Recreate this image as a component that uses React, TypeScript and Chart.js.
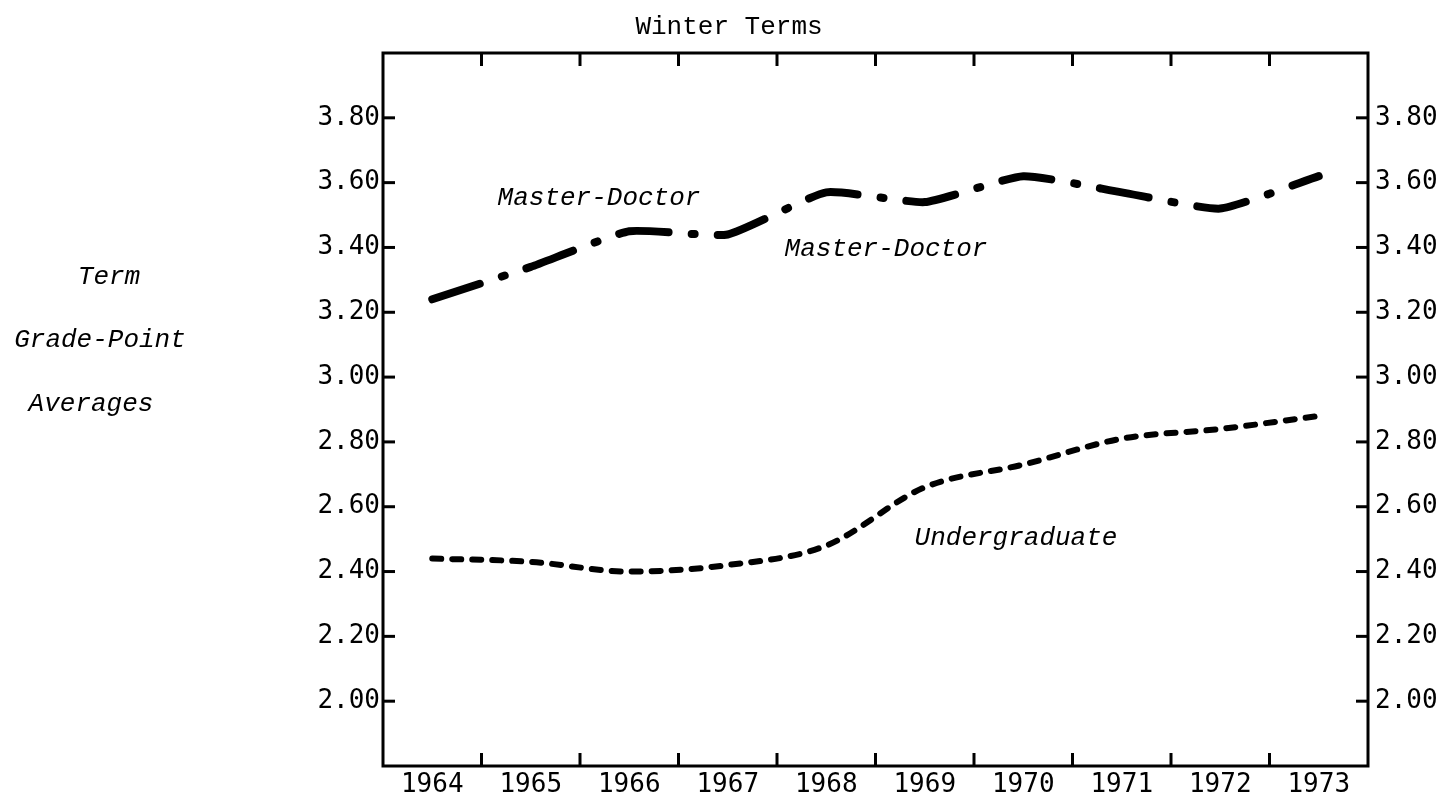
import { useEffect, useRef } from "react";
import { Chart, registerables } from "chart.js";

Chart.register(...registerables);

const YEARS = ["1964", "1965", "1966", "1967", "1968", "1969", "1970", "1971", "1972", "1973"];
const MASTER_DOCTOR = [3.24, 3.34, 3.45, 3.44, 3.57, 3.54, 3.62, 3.57, 3.52, 3.62];
const UNDERGRADUATE = [2.44, 2.43, 2.4, 2.42, 2.48, 2.66, 2.73, 2.81, 2.84, 2.88];
const Y_TICKS = [2.0, 2.2, 2.4, 2.6, 2.8, 3.0, 3.2, 3.4, 3.6, 3.8];
const Y_MIN = 1.8;
const Y_MAX = 4.0;
const TITLE = "Winter Terms";
const AXIS_TITLE_LINES = ["Term", "Grade-Point", "Averages"];
const SERIES_NAMES = ["Master-Doctor", "Undergraduate"];

const TICK_FONT = { family: "'DejaVu Sans Mono', monospace", size: 26 };
const ITALIC_FONT = "italic 26px 'Liberation Mono', monospace";
const TITLE_FONT = "26px 'Liberation Mono', monospace";

const decorPlugin = {
  id: "decor",
  afterDraw(chart: any) {
    const { ctx, chartArea: a, scales } = chart;
    const xs = scales.x;
    const ys = scales.y;
    ctx.save();
    ctx.strokeStyle = "#000";
    ctx.fillStyle = "#000";
    ctx.lineWidth = 3;
    ctx.lineCap = "butt";
    ctx.strokeRect(a.left, a.top, a.right - a.left, a.bottom - a.top);
    const line = (x1: number, y1: number, x2: number, y2: number) => {
      ctx.beginPath();
      ctx.moveTo(x1, y1);
      ctx.lineTo(x2, y2);
      ctx.stroke();
    };
    for (let i = 1; i < YEARS.length; i++) {
      const px = (xs.getPixelForValue(i - 1) + xs.getPixelForValue(i)) / 2;
      line(px, a.bottom, px, a.bottom - 13);
      line(px, a.top, px, a.top + 13);
    }
    Y_TICKS.forEach((v) => {
      const py = ys.getPixelForValue(v);
      line(a.left, py, a.left + 12, py);
      line(a.right, py, a.right - 12, py);
    });

    ctx.textAlign = "center";
    ctx.textBaseline = "alphabetic";
    ctx.font = TITLE_FONT;
    ctx.fillText(TITLE, 729, 34);

    ctx.font = ITALIC_FONT;
    const axisPos = [
      [109, 284],
      [100, 347],
      [91, 411],
    ];
    AXIS_TITLE_LINES.forEach((t, i) => ctx.fillText(t, axisPos[i][0], axisPos[i][1]));

    ctx.fillText(SERIES_NAMES[0], 599, 205);
    ctx.fillText(SERIES_NAMES[0], 886, 256);
    ctx.fillText(SERIES_NAMES[1], 1016, 545);
    ctx.restore();
  },
};

export default function App() {
  const ref = useRef<HTMLCanvasElement | null>(null);

  useEffect(() => {
    if (!ref.current) return;
    const yScale = (position: "left" | "right", width: number, padding: number) => ({
      type: "linear" as const,
      position,
      min: Y_MIN,
      max: Y_MAX,
      afterBuildTicks: (s: any) => {
        s.ticks = Y_TICKS.map((v) => ({ value: v }));
      },
      afterFit: (s: any) => {
        s.width = width;
      },
      grid: { display: false, drawTicks: false },
      border: { display: false },
      ticks: {
        color: "#000",
        font: TICK_FONT,
        padding,
        callback: (v: any) => Number(v).toFixed(2),
      },
    });

    const chart = new Chart(ref.current, {
      type: "line",
      data: {
        labels: YEARS,
        datasets: [
          {
            label: SERIES_NAMES[0],
            data: MASTER_DOCTOR,
            borderColor: "#000",
            borderWidth: 8,
            borderDash: [50, 23, 3, 23],
            borderCapStyle: "round",
            tension: 0.15,
            pointRadius: 0,
            fill: false,
            yAxisID: "y",
          },
          {
            label: SERIES_NAMES[1],
            data: UNDERGRADUATE,
            borderColor: "#000",
            borderWidth: 6,
            borderDash: [9, 11],
            borderCapStyle: "round",
            cubicInterpolationMode: "monotone",
            pointRadius: 0,
            fill: false,
            yAxisID: "y",
          },
        ],
      },
      options: {
        responsive: false,
        animation: false,
        layout: { padding: { top: 53, left: 0, right: 0, bottom: 0 } },
        plugins: {
          legend: { display: false },
          title: { display: false },
          tooltip: { enabled: false },
        },
        scales: {
          x: {
            type: "category",
            position: "bottom",
            offset: true,
            afterFit: (s: any) => {
              s.height = 38;
            },
            grid: { display: false, drawTicks: false, offset: true },
            border: { display: false },
            ticks: { color: "#000", font: TICK_FONT, padding: 4, maxRotation: 0, autoSkip: false },
          },
          y: yScale("left", 383, 3),
          y2: yScale("right", 86, 7),
        },
      },
      plugins: [decorPlugin],
    });
    return () => chart.destroy();
  }, []);

  return (
    <div style={{ position: "fixed", left: 0, top: 0, width: 1454, height: 804, background: "#fff" }}>
      <canvas ref={ref} width={1454} height={804} style={{ display: "block" }} />
    </div>
  );
}
